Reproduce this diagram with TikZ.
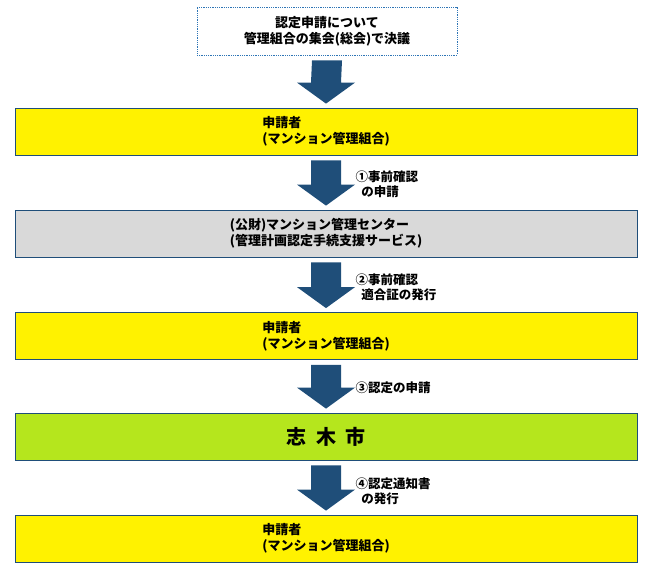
\documentclass[tikz,border=0pt]{standalone}
\usepackage{fontspec}
\newfontfamily\jpfont{Noto Sans CJK JP}
\usetikzlibrary{positioning,calc}
\definecolor{arrowblue}{HTML}{1F4E79}
\definecolor{dotblue}{HTML}{2E75B6}
\definecolor{boxyellow}{HTML}{FFF200}
\definecolor{boxgrey}{HTML}{D9D9D9}
\definecolor{boxgreen}{HTML}{B5E61D}
\newcommand{\flowarrow}[2]{%
  \fill[arrowblue] ($(#1.south)+(-15pt,-5pt)$) -- ($(#1.south)+(15pt,-5pt)$)
    -- ($(#2.north)+(15pt,25pt)$) -- ($(#2.north)+(29pt,25pt)$)
    -- ($(#2.north)+(0pt,4pt)$) -- ($(#2.north)+(-29pt,25pt)$)
    -- ($(#2.north)+(-15pt,25pt)$) -- cycle;}

\begin{document}
\begin{tikzpicture}[
    x=1pt, y=-1pt,
    font=\jpfont\bfseries\fontsize{13pt}{16pt}\selectfont,
    flowbox/.style={
        rectangle,
        draw=arrowblue,
        thick,
        minimum width=622pt,
        minimum height=47pt,
        align=left
    },
    notebox/.style={
        rectangle,
        draw=dotblue,
        densely dotted,
        thick,
        fill=white,
        minimum width=260pt,
        minimum height=48pt,
        align=center
    },
    steplabel/.style={anchor=west, align=left, font=\jpfont\bfseries\fontsize{12.5pt}{15pt}\selectfont}
]
    \useasboundingbox (0,0) rectangle (650,587);
    % Boxes
    \node[notebox] (vote) at (327,31) {認定申請について\\管理組合の集会(総会)で決議};
    \node[flowbox, fill=boxyellow] (applicant1) at (326,131.5) {申請者\\(マンション管理組合)};
    \node[flowbox, fill=boxgrey] (center) at (326,233.5) {(公財)マンション管理センター\\(管理計画認定手続支援サービス)};
    \node[flowbox, fill=boxyellow] (applicant2) at (326,336) {申請者\\(マンション管理組合)};
    \node[flowbox, fill=boxgreen, font=\jpfont\bfseries\fontsize{20pt}{24pt}\selectfont] (city) at (326,436.5) {志\ \ 木\ \ 市};
    \node[flowbox, fill=boxyellow] (applicant3) at (326,538.5) {申請者\\(マンション管理組合)};

    % Block arrows
    \flowarrow{vote}{applicant1}
    \flowarrow{applicant1}{center}
    \flowarrow{center}{applicant2}
    \flowarrow{applicant2}{city}
    \flowarrow{city}{applicant3}

    % Step labels
    \node[steplabel] (s1) at (352,184) {①事前確認\\\ \ の申請};
    \node[steplabel] (s2) at (352,287) {②事前確認\\\ \ 適合証の発行};
    \node[steplabel] (s3) at (352,388) {③認定の申請};
    \node[steplabel] (s4) at (352,491) {④認定通知書\\\ \ の発行};
\end{tikzpicture}
\end{document}
